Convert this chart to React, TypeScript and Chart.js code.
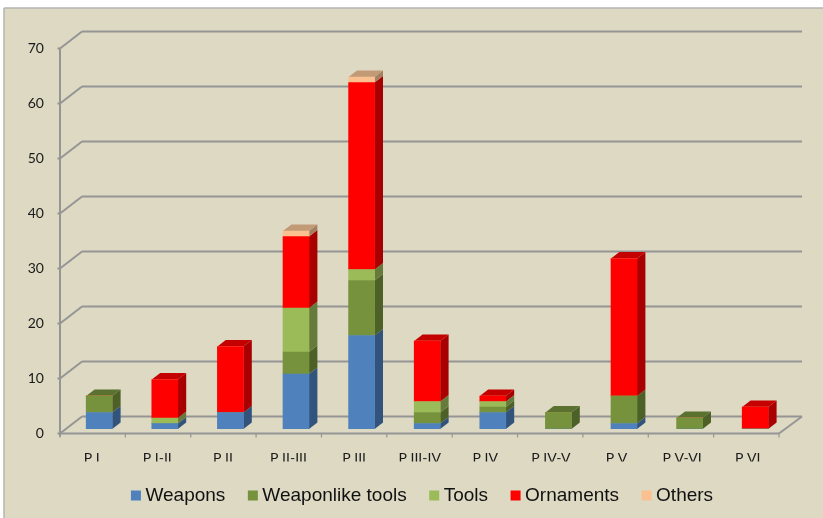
import { useEffect, useRef } from "react";
import { Chart, registerables } from "chart.js";

Chart.register(...registerables);

const categories = ["P I", "P I-II", "P II", "P II-III", "P III", "P III-IV", "P IV", "P IV-V", "P V", "P V-VI", "P VI"];
const weapons = [3, 1, 3, 10, 17, 1, 3, 0, 1, 0, 0];
const weaponlikeTools = [3, 0, 0, 4, 10, 2, 1, 3, 5, 2, 0];
const tools = [0, 1, 0, 8, 2, 2, 1, 0, 0, 0, 0];
const ornaments = [0, 7, 12, 13, 34, 11, 1, 0, 25, 0, 4];
const others = [0, 0, 0, 1, 1, 0, 0, 0, 0, 0, 0];
const yTicks = [0, 10, 20, 30, 40, 50, 60, 70];

const seriesStyles = [
  { label: "Weapons", data: weapons, front: "#4F81BD", side: "#31537C", top: "#3D6493" },
  { label: "Weaponlike tools", data: weaponlikeTools, front: "#76923C", side: "#4D6027", top: "#5B7130" },
  { label: "Tools", data: tools, front: "#9BBB59", side: "#667A3B", top: "#7A9346" },
  { label: "Ornaments", data: ornaments, front: "#FF0000", side: "#A80000", top: "#C40000" },
  { label: "Others", data: others, front: "#FAC090", side: "#A57F5F", top: "#C39A76" },
];

const WALL = "#959595";
const BAR_DX = 8.4;
const BAR_DY = 6.5;

function polygon(ctx: CanvasRenderingContext2D, pts: number[][], fill: string) {
  ctx.beginPath();
  pts.forEach(([x, y], i) => (i ? ctx.lineTo(x, y) : ctx.moveTo(x, y)));
  ctx.closePath();
  ctx.fillStyle = fill;
  ctx.fill();
}

function line(ctx: CanvasRenderingContext2D, x1: number, y1: number, x2: number, y2: number) {
  ctx.beginPath();
  ctx.moveTo(x1, y1);
  ctx.lineTo(x2, y2);
  ctx.stroke();
}

// Panel behind the plot, with its thin frame along the top and left.
const panelPlugin = {
  id: "panel",
  beforeDraw(chart: any) {
    const { ctx, width, height } = chart;
    ctx.save();
    ctx.fillStyle = "#FFFFFF";
    ctx.fillRect(0, 0, width, height);
    ctx.fillStyle = "#DDD9C3";
    ctx.fillRect(4, 8, width - 4, height - 8);
    ctx.strokeStyle = "#B4B4B0";
    ctx.lineWidth = 1.5;
    line(ctx, 4, 8, width, 8);
    line(ctx, 4, 8, 4, height);
    ctx.restore();
  },
};

// Places the legend under the plot, off-centre towards the right.
const legendPlacementPlugin = {
  id: "legendPlacement",
  afterLayout(chart: any) {
    const legend = chart.legend;
    legend.left += 30.5;
    legend.right += 30.5;
    legend.top -= 3;
    legend.bottom -= 3;
  },
};

// Back wall, side wall and floor of the box, plus the depth faces of the bars.
const boxPlugin = {
  id: "box",
  beforeDatasetsDraw(chart: any) {
    const { ctx, chartArea, scales } = chart;
    const y = scales.y;
    const frontLeft = chartArea.left - 6.4;
    const frontRight = chartArea.right - 9;
    const backLeft = chartArea.left + 15.6;
    const backRight = chartArea.right + 14;
    const toFront = 4.5;
    const toBack = -12.5;
    ctx.save();
    ctx.strokeStyle = WALL;
    ctx.lineWidth = 2;
    yTicks.forEach((v) => {
      const py = y.getPixelForValue(v);
      line(ctx, frontLeft, py + toFront, backLeft, py + toBack);
      line(ctx, backLeft, py + toBack, backRight, py + toBack);
      line(ctx, frontLeft - 2.5, py + toFront, frontLeft, py + toFront);
    });
    const floorY = y.getPixelForValue(0) + toFront;
    line(ctx, frontLeft, y.getPixelForValue(70) + toFront, frontLeft, floorY + 3);
    line(ctx, frontLeft, floorY, frontRight, floorY);
    line(ctx, frontRight, floorY, backRight, floorY - 17);
    ctx.lineWidth = 1.2;
    const step = (frontRight - frontLeft) / categories.length;
    for (let i = 0; i <= categories.length; i++) {
      line(ctx, frontLeft + step * i, floorY, frontLeft + step * i, floorY + 4);
    }

    categories.forEach((_, c) => {
      let topmost = -1;
      seriesStyles.forEach((s, d) => {
        if (s.data[c] > 0) topmost = d;
      });
      seriesStyles.forEach((s, d) => {
        if (!s.data[c]) return;
        const bar = chart.getDatasetMeta(d).data[c];
        const right = bar.x + bar.width / 2;
        const left = bar.x - bar.width / 2;
        polygon(
          ctx,
          [
            [right, bar.base],
            [right + BAR_DX, bar.base - BAR_DY],
            [right + BAR_DX, bar.y - BAR_DY],
            [right, bar.y],
          ],
          s.side
        );
        if (d === topmost) {
          polygon(
            ctx,
            [
              [left, bar.y],
              [left + BAR_DX, bar.y - BAR_DY],
              [right + BAR_DX, bar.y - BAR_DY],
              [right, bar.y],
            ],
            s.top
          );
        }
      });
    });
    ctx.restore();
  },
};

export default function App() {
  const canvasRef = useRef<HTMLCanvasElement>(null);

  useEffect(() => {
    document.body.style.margin = "0";
    const chart = new Chart(canvasRef.current as HTMLCanvasElement, {
      type: "bar",
      data: {
        labels: categories,
        datasets: seriesStyles.map((s) => ({
          label: s.label,
          data: s.data,
          backgroundColor: s.front,
          borderWidth: 0,
          barThickness: 26,
          stack: "finds",
        })),
      },
      options: {
        animation: false,
        responsive: false,
        devicePixelRatio: 1,
        layout: { autoPadding: false, padding: { top: 44, left: 0, right: 35, bottom: 0 } },
        plugins: {
          title: { display: false },
          tooltip: { enabled: false },
          legend: {
            position: "bottom",
            labels: {
              font: { family: "'Liberation Sans'", size: 19 },
              color: "#111111",
              usePointStyle: true,
              pointStyle: "rect",
              boxWidth: 0.01,
              boxHeight: 10,
              padding: 27.5,
            },
          },
        },
        scales: {
          x: {
            stacked: true,
            grid: { display: false },
            border: { display: false },
            afterFit: (scale: any) => {
              scale.height = 32.5;
            },
            ticks: {
              font: { family: "Lato", size: 14 },
              color: "#1A1A1A",
              padding: 13,
              labelOffset: -7.5,
              autoSkip: false,
              maxRotation: 0,
            },
          },
          y: {
            stacked: true,
            min: 0,
            max: 70,
            grid: { display: false },
            border: { display: false },
            afterFit: (scale: any) => {
              scale.width = 66.4;
            },
            ticks: {
              stepSize: 10,
              font: { family: "Lato", size: 14 },
              color: "#1A1A1A",
              padding: 14.5,
              labelOffset: 4.5,
            },
          },
        },
      },
      plugins: [panelPlugin, legendPlacementPlugin, boxPlugin],
    } as any);
    return () => chart.destroy();
  }, []);

  return <canvas ref={canvasRef} width={823} height={518} style={{ display: "block" }} />;
}
